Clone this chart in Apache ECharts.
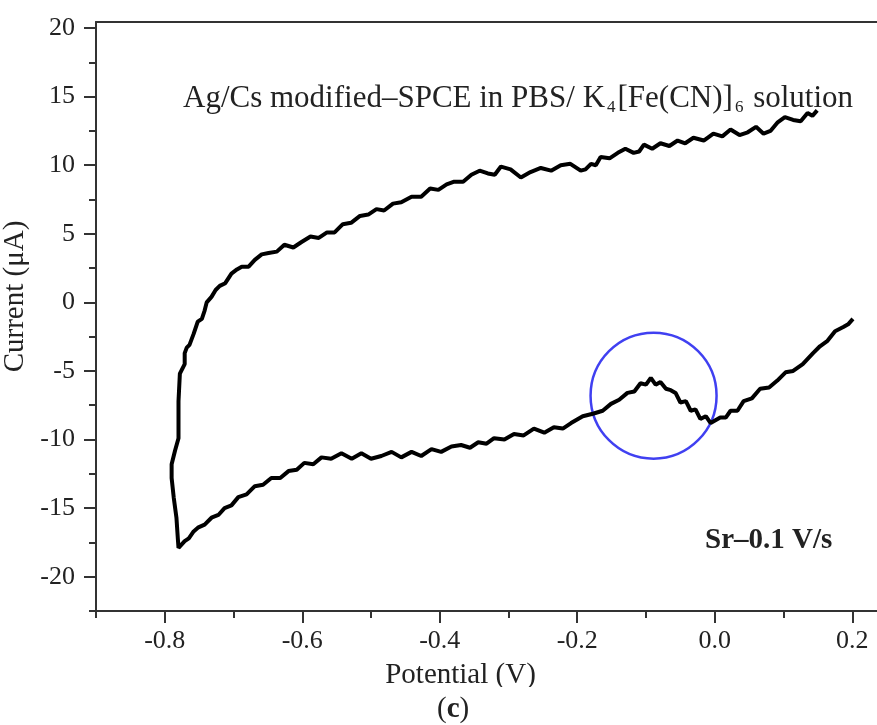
<!DOCTYPE html>
<html>
<head>
<meta charset="utf-8">
<script src="https://cdn.jsdelivr.net/npm/echarts@6/dist/echarts.min.js"></script>
<style>
  html, body { margin: 0; padding: 0; background: #fff; }
  #chart_c { width: 877px; height: 725px; }
</style>
</head>
<body>
<div id="chart_c"></div>
<script>
// forward/back scan
var upperPotential = [0.149, 0.142, 0.135, 0.125, 0.114, 0.102, 0.091, 0.081, 0.071, 0.060, 0.048, 0.036, 0.023, 0.011, -0.002, -0.016, -0.031, -0.043, -0.054, -0.066, -0.079, -0.091, -0.103, -0.110, -0.118, -0.130, -0.141, -0.153, -0.166, -0.173, -0.180, -0.188, -0.195, -0.210, -0.224, -0.238, -0.253, -0.268, -0.282, -0.297, -0.311, -0.320, -0.330, -0.342, -0.354, -0.366, -0.379, -0.390, -0.402, -0.414, -0.427, -0.441, -0.456, -0.468, -0.481, -0.492, -0.504, -0.516, -0.529, -0.541, -0.553, -0.564, -0.576, -0.588, -0.601, -0.613, -0.626, -0.637, -0.649, -0.659, -0.669, -0.678, -0.688, -0.695, -0.703, -0.712, -0.720, -0.726, -0.732, -0.739, -0.742, -0.746, -0.752, -0.758, -0.764, -0.768, -0.771, -0.771, -0.778, -0.780, -0.780, -0.785, -0.790, -0.790, -0.787, -0.783, -0.781, -0.780];
var upperCurrent = [14.0, 13.6, 13.8, 13.2, 13.3, 13.5, 13.1, 12.5, 12.3, 12.8, 12.4, 12.2, 12.6, 12.1, 12.3, 11.8, 12.0, 11.6, 11.8, 11.4, 11.6, 11.2, 11.5, 11.0, 10.9, 11.2, 10.9, 10.5, 10.6, 10.0, 10.1, 9.7, 9.6, 10.1, 10.0, 9.6, 9.8, 9.5, 9.1, 9.7, 9.9, 9.3, 9.4, 9.6, 9.3, 8.8, 8.8, 8.6, 8.2, 8.3, 7.7, 7.7, 7.3, 7.2, 6.7, 6.8, 6.4, 6.3, 5.8, 5.7, 5.1, 5.1, 4.7, 4.8, 4.4, 4.0, 4.2, 3.7, 3.6, 3.5, 3.1, 2.6, 2.6, 2.4, 2.1, 1.4, 1.2, 0.9, 0.4, 0.0, -0.6, -1.2, -1.4, -2.3, -3.1, -3.3, -3.7, -4.5, -5.2, -7.2, -9.9, -10.8, -11.8, -12.8, -14.2, -15.7, -17.2, -17.9];

var lowerPotential = [-0.771, -0.765, -0.758, -0.751, -0.742, -0.732, -0.722, -0.713, -0.703, -0.693, -0.681, -0.669, -0.657, -0.645, -0.632, -0.620, -0.608, -0.597, -0.584, -0.572, -0.558, -0.543, -0.528, -0.514, -0.500, -0.485, -0.470, -0.456, -0.441, -0.427, -0.412, -0.398, -0.383, -0.369, -0.356, -0.344, -0.332, -0.321, -0.306, -0.292, -0.278, -0.263, -0.248, -0.234, -0.221, -0.209, -0.192, -0.176, -0.163, -0.151, -0.139, -0.127, -0.117, -0.108, -0.100, -0.093, -0.086, -0.079, -0.071, -0.064, -0.057, -0.050, -0.042, -0.035, -0.028, -0.021, -0.013, -0.006, 0.001, 0.008, 0.016, 0.023, 0.033, 0.042, 0.054, 0.066, 0.079, 0.091, 0.103, 0.114, 0.128, 0.143, 0.153, 0.164, 0.175, 0.187, 0.194, 0.201];
var lowerCurrent = [-17.4, -17.2, -16.7, -16.4, -16.2, -15.7, -15.5, -15.0, -14.8, -14.2, -14.0, -13.4, -13.3, -12.8, -12.8, -12.3, -12.2, -11.7, -11.8, -11.3, -11.4, -11.0, -11.4, -11.0, -11.4, -11.2, -10.9, -11.3, -10.9, -11.2, -10.7, -10.9, -10.5, -10.4, -10.6, -10.2, -10.3, -9.9, -10.0, -9.6, -9.7, -9.2, -9.5, -9.1, -9.2, -8.8, -8.3, -8.1, -7.9, -7.4, -7.1, -6.6, -6.5, -5.9, -6.0, -5.5, -6.0, -5.8, -6.3, -6.4, -6.6, -7.3, -7.2, -7.9, -7.8, -8.5, -8.3, -8.8, -8.6, -8.4, -8.4, -7.9, -7.9, -7.2, -7.0, -6.3, -6.2, -5.7, -5.1, -5.0, -4.5, -3.7, -3.2, -2.8, -2.1, -1.8, -1.6, -1.2];

// the blue ring around the reduction peak
var peakMark = [[-0.089, -6.8]];

var xMajor = [-0.8, -0.6, -0.4, -0.2, 0.0, 0.2];
var xMinor = [-0.9, -0.7, -0.5, -0.3, -0.1, 0.1];
var yMajor = [-20, -15, -10, -5, 0, 5, 10, 15, 20];
var yMinor = [-22.5, -17.5, -12.5, -7.5, -2.5, 2.5, 7.5, 12.5, 17.5];

var loop = [];
for (var i = 0; i < upperPotential.length; i++) loop.push([upperPotential[i], upperCurrent[i]]);
for (var j = 0; j < lowerPotential.length; j++) loop.push([lowerPotential[j], lowerCurrent[j]]);

var serif = 'Liberation Serif';
var axisColor = '#333';
var textColor = '#222';

var myChart = echarts.init(document.getElementById('chart_c'));
myChart.setOption({
    animation: false,
    grid: {left: 96, right: 0, top: 22, bottom: 114, outerBoundsMode: 'none', containLabel: false},
    xAxis: [
        {
            type: 'value', min: -0.9, max: 0.236, position: 'bottom',
            splitLine: {show: false},
            axisLine: {onZero: false, lineStyle: {color: axisColor, width: 2}},
            axisTick: {customValues: xMajor, length: 12, lineStyle: {color: axisColor, width: 2}},
            axisLabel: {
                customValues: xMajor, margin: 17,
                fontFamily: serif, fontSize: 26, color: textColor,
                formatter: function (v) { return v.toFixed(1); }
            },
            name: 'Potential (V)', nameLocation: 'middle', nameGap: 50,
            nameTextStyle: {fontFamily: serif, fontSize: 29, color: textColor, padding: [0, 52, 0, 0]}
        },
        {
            type: 'value', min: -0.9, max: 0.236, position: 'bottom', offset: 0,
            splitLine: {show: false},
            axisLine: {show: false, onZero: false},
            axisTick: {customValues: xMinor, length: 7, lineStyle: {color: axisColor, width: 2}},
            axisLabel: {show: false}
        },
        {
            type: 'value', min: -0.9, max: 0.236, position: 'top',
            splitLine: {show: false},
            axisLine: {onZero: false, lineStyle: {color: axisColor, width: 2}},
            axisTick: {show: false},
            axisLabel: {show: false}
        }
    ],
    yAxis: [
        {
            type: 'value', min: -22.5, max: 20.44, position: 'left',
            splitLine: {show: false},
            axisLine: {show: true, onZero: false, lineStyle: {color: axisColor, width: 2}},
            axisTick: {show: true, customValues: yMajor, length: 12, lineStyle: {color: axisColor, width: 2}},
            axisLabel: {customValues: yMajor, margin: 21, fontFamily: serif, fontSize: 26, color: textColor},
            name: 'Current (μA)', nameLocation: 'middle', nameGap: 52,
            nameTextStyle: {fontFamily: serif, fontSize: 29, color: textColor, padding: [0, 0, 0, 40]}
        },
        {
            type: 'value', min: -22.5, max: 20.44, position: 'left', offset: 0,
            splitLine: {show: false},
            axisLine: {show: false, onZero: false},
            axisTick: {show: true, customValues: yMinor, length: 7, lineStyle: {color: axisColor, width: 2}},
            axisLabel: {show: false}
        }
    ],
    series: [
        {
            type: 'line', xAxisIndex: 0, yAxisIndex: 0,
            data: loop, showSymbol: false, smooth: false,
            lineStyle: {color: '#000', width: 4}
        },
        {
            type: 'scatter', xAxisIndex: 0, yAxisIndex: 0,
            data: peakMark, symbol: 'circle', symbolSize: 126,
            itemStyle: {color: 'rgba(0,0,0,0)', borderColor: '#1010ee', borderWidth: 2.5}
        }
    ],
    graphic: [
        {
            type: 'text', left: 183, top: 83,
            style: {
                rich: {
                    n: {fontFamily: serif, fontSize: 31, fill: textColor},
                    sub: {fontFamily: serif, fontSize: 17, fill: textColor, padding: [18, 2, 0, 2]}
                },
                text: '{n|Ag/Cs modified–SPCE in PBS/ K}{sub|4}{n|[Fe(CN)]}{sub|6}{n| solution}'
            }
        },
        {
            type: 'text', left: 705, top: 526,
            style: {text: 'Sr–0.1 V/s', fontFamily: serif, fontSize: 29, fontWeight: 'bold', fill: textColor}
        },
        {
            type: 'rect', left: 360, top: 687, z: 100,
            shape: {width: 220, height: 10},
            style: {fill: '#fff'}
        },
        {
            type: 'text', left: 437, top: 695, z: 101,
            style: {
                rich: {
                    p: {fontFamily: serif, fontSize: 29, fill: textColor},
                    b: {fontFamily: serif, fontSize: 29, fontWeight: 'bold', fill: textColor}
                },
                text: '{p|(}{b|c}{p|)}'
            }
        }
    ]
});
</script>
</body>
</html>
